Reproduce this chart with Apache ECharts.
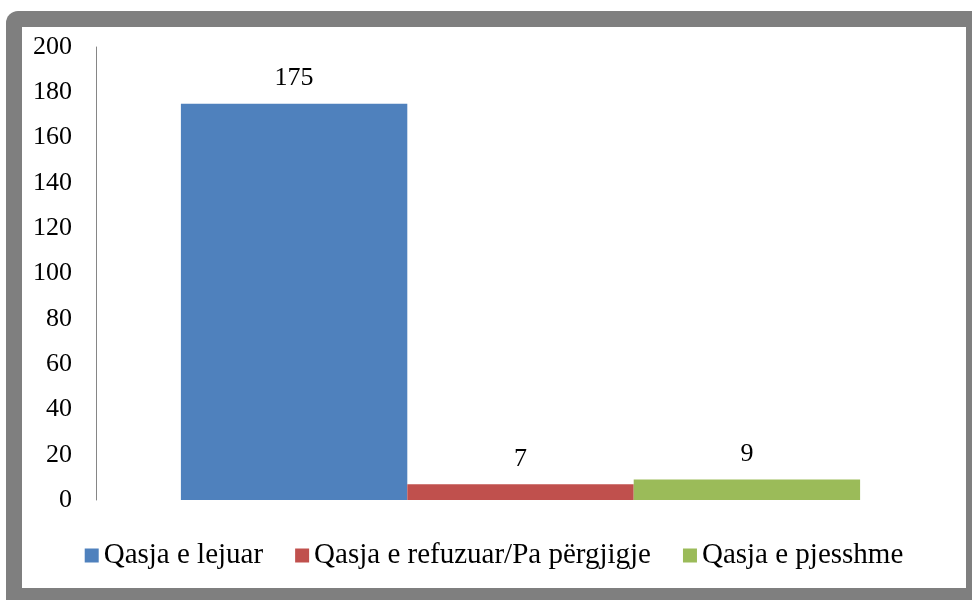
<!DOCTYPE html>
<html>
<head>
<meta charset="utf-8">
<script src="https://cdn.jsdelivr.net/npm/echarts@6/dist/echarts.min.js"></script>
<style>
  body { margin: 0; background: #fff; width: 972px; height: 600px; overflow: hidden; position: relative; }
  #frame { position: absolute; left: 6px; top: 11px; width: 990px; height: 620px; background: #7f7f7f; border-radius: 12px; }
  #main { position: absolute; left: 22px; top: 27px; width: 944px; height: 561px; background: #fff; }
</style>
</head>
<body>
<div id="frame"></div>
<div id="main"></div>
<script>
var categories = [''];
var seriesNames = ['Qasja e lejuar', 'Qasja e refuzuar/Pa përgjigje', 'Qasja e pjesshme'];
var seriesValues = [175, 7, 9];
var seriesColors = ['#4f81bd', '#c0504d', '#9bbb59'];

var font = '"Liberation Serif", "DejaVu Serif", serif';

var myChart = echarts.init(document.getElementById('main'));

var series = seriesNames.map(function (name, i) {
	return {
		name: name,
		type: 'bar',
		data: [seriesValues[i]],
		barGap: '0%',
		barCategoryGap: '20%',
		itemStyle: { color: seriesColors[i] },
		label: {
			show: true,
			position: 'top',
			distance: 12,
			color: '#000',
			fontFamily: font,
			fontSize: 26
		}
	};
});

var option = {
	animation: false,
	grid: { left: 74, right: 21, top: 20, bottom: 88 },
	legend: {
		bottom: 13,
		left: 'center',
		itemWidth: 14,
		itemHeight: 14,
		itemGap: 32,
		icon: 'rect',
		textStyle: { fontFamily: font, fontSize: 29, color: '#000' },
		data: seriesNames
	},
	xAxis: {
		type: 'category',
		data: categories,
		axisLine: { show: false },
		axisTick: { show: false },
		axisLabel: { show: false }
	},
	yAxis: {
		type: 'value',
		min: 0,
		max: 200,
		interval: 20,
		splitLine: { show: false },
		axisTick: { show: false },
		axisLine: { show: true, lineStyle: { color: '#868686', width: 1 } },
		axisLabel: { margin: 24, color: '#000', fontFamily: font, fontSize: 26 }
	},
	series: series
};

myChart.setOption(option);
</script>
</body>
</html>
